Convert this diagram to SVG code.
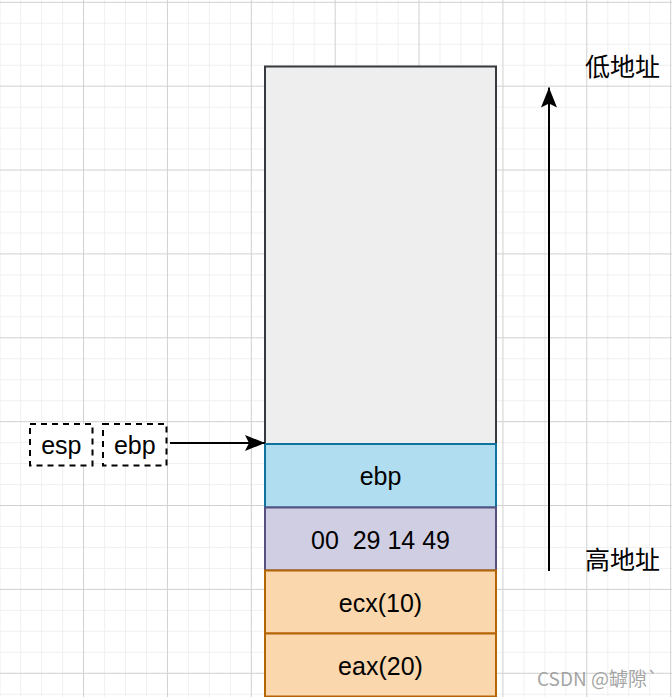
<svg xmlns="http://www.w3.org/2000/svg" width="672" height="697" viewBox="0 0 672 697">
<style>
.lbl{font-family:"Liberation Sans",Arial,sans-serif;font-size:25px;fill:#000;text-anchor:middle;dominant-baseline:central}
.cjk{font-family:"Noto Sans CJK SC","Liberation Sans",sans-serif;font-size:25px;fill:#000}
.box{stroke-width:2}
.conn{stroke:#000;stroke-width:2;fill:none}
</style>
<defs>
<pattern id="grid" x="-0.8" y="1.8" width="83.87" height="83.87" patternUnits="userSpaceOnUse">
<path d="M21.47 0V83.87M42.43 0V83.87M63.4 0V83.87M0 21.47H83.87M0 42.43H83.87M0 63.4H83.87" stroke="#f0f0f0" stroke-width="1" fill="none"/>
<path d="M0.5 0V83.87M0 0.5H83.87" stroke="#d0d0d0" stroke-width="1" fill="none"/>
</pattern>
<marker id="arr" viewBox="0 0 20 20" refX="20" refY="10" markerWidth="20" markerHeight="20" markerUnits="userSpaceOnUse" orient="auto">
<path d="M0 2L20 10L0 18L4 10Z" fill="#000"/>
</marker>
</defs>
<rect width="672" height="697" fill="#fff"/>
<rect width="672" height="697" fill="url(#grid)"/>

<g id="node-free">
<rect class="box" x="265" y="66.5" width="231" height="377.5" fill="#eeeeee" stroke="#36393d"/>
</g>
<g id="node-ebp-slot">
<rect class="box" x="265" y="444" width="231" height="63.5" fill="#b1ddf0" stroke="#10739e"/>
<text class="lbl" x="380.5" y="476">ebp</text>
</g>
<g id="node-ret">
<rect class="box" x="265" y="507.5" width="231" height="63" fill="#d0cee2" stroke="#56517e"/>
<text class="lbl" x="380.5" y="539.5" xml:space="preserve">00  29 14 49</text>
</g>
<g id="node-ecx">
<rect class="box" x="265" y="570.5" width="231" height="63" fill="#fad7ac" stroke="#b46504"/>
<text class="lbl" x="380.5" y="602.5">ecx(10)</text>
</g>
<g id="node-eax">
<rect class="box" x="265" y="633.5" width="231" height="63" fill="#fad7ac" stroke="#b46504"/>
<text class="lbl" x="380.5" y="665.5">eax(20)</text>
</g>
<g id="node-esp">
<rect x="30" y="424" width="62.5" height="41.5" fill="#fff" stroke="#000" stroke-width="2" stroke-dasharray="6 5"/>
<text class="lbl" x="61.3" y="445">esp</text>
</g>
<g id="node-ebp">
<rect x="103" y="424" width="63.5" height="41.5" fill="#fff" stroke="#000" stroke-width="2" stroke-dasharray="6 5"/>
<text class="lbl" x="134.8" y="445">ebp</text>
</g>
<g id="node-low">
<text class="cjk" x="585" y="76">低地址</text>
</g>
<g id="node-high">
<text class="cjk" x="585" y="569">高地址</text>
</g>
<g id="connectors">
<line class="conn" x1="170" y1="443" x2="265" y2="443" marker-end="url(#arr)"/>
<line class="conn" x1="549" y1="571" x2="549" y2="87.5" marker-end="url(#arr)"/>
</g>
<text x="537" y="686" font-family="'Noto Sans CJK SC','Liberation Sans',sans-serif" font-size="19" fill="#999" fill-opacity="0.9">CSDN @罅隙`</text>
</svg>
